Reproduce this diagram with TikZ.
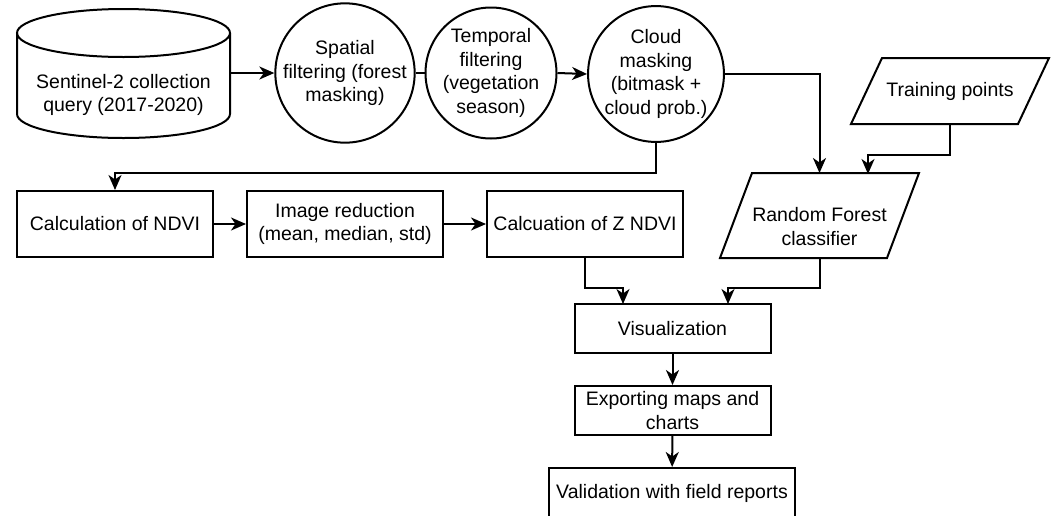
\documentclass[tikz,border=0pt]{standalone}
\usepackage{fontspec}
\setmainfont{Liberation Sans}
\usetikzlibrary{arrows.meta,calc}
\begin{document}
\begin{tikzpicture}[x=1pt,y=-1pt, line width=2pt,
  every node/.style={font=\fontsize{19.5pt}{23.5pt}\selectfont, align=center, inner sep=0pt},
  box/.style={draw, minimum width=196pt, minimum height=66pt},
  circ/.style={draw, circle, minimum size=131pt},
  arr/.style={-{Stealth[length=15pt,width=13pt,inset=4.5pt]}}]
\useasboundingbox (0,0) rectangle (1052,515);
\clip (0,0) rectangle (1052,515);

% database cylinder
\node (db) [minimum width=213pt, minimum height=129pt] at (123.5,73) {};
\draw[fill=white] (17,33) -- (17,114) arc[start angle=180,end angle=360,x radius=106.5pt,y radius=24pt] -- (230,33);
\draw (123.5,33) ellipse [x radius=106.5pt, y radius=24pt];
\node (dbt) at (123.5,95) {Sentinel-2 collection\\query (2017-2020)};

% circles
\node[circ] (c1) at (345,73) {Spatial\\filtering (forest\\masking)};
\node[circ] (c2) at (491,73) {Temporal\\filtering\\(vegetation\\season)};
\node[circ] (c3) at (656,74) {Cloud\\masking\\(bitmask +\\cloud prob.)};

% boxes
\node[box] (calc) at (115,224) {Calculation of NDVI};
\node[box] (red) at (345,224) {Image reduction\\(mean, median, std)};
\node[box] (z) at (585,224) {Calcuation of Z NDVI};
\node[box, minimum height=49pt] (vis) at (672.5,328.5) {Visualization};
\node[box, minimum height=49pt] (exp) at (672.5,410.5) {Exporting maps and\\charts};
\node[box, minimum width=246pt, minimum height=50pt] (val) at (672,493) {Validation with field reports};

% parallelograms
\node (tp) [minimum width=196pt, minimum height=64pt] at (950,91) {Training points};
\draw (tp.south west) -- ($(tp.north west)+(31,0)$) -- (tp.north east) -- ($(tp.south east)+(-31,0)$) -- cycle;
\node (rf) [minimum width=197pt, minimum height=83pt] at (819.5,215.5) {};
\draw (rf.south west) -- ($(rf.north west)+(32,0)$) -- (rf.north east) -- ($(rf.south east)+(-32,0)$) -- cycle;
\node (rft) at (819.5,226.5) {Random Forest\\classifier};

% connectors
\coordinate (tpin) at (868,174);
\coordinate (vin1) at (623,304);
\coordinate (vin2) at (728,304);
\draw[arr] (db.east) -- (c1.west);
\draw (c1.east) -- (c2.west);
\draw[arr] (c2.east) -- (c3.west);
\draw[arr] (c3.east) -| (rf.north);
\draw[arr] (tp.south) |- ($(tpin)+(0,-19)$) -- (tpin);
\draw[arr] (c3.south) |- ($(calc.north)+(0,-17)$) -- (calc.north);
\draw[arr] (calc) -- (red);
\draw[arr] (red) -- (z);
\draw[arr] (z.south) |- ($(vin1)+(0,-16)$) -- (vin1);
\draw[arr] (rf.south) |- ($(vin2)+(0,-16)$) -- (vin2);
\draw[arr] (vis) -- (exp);
\draw[arr] (exp) -- (val);
\end{tikzpicture}
\end{document}
